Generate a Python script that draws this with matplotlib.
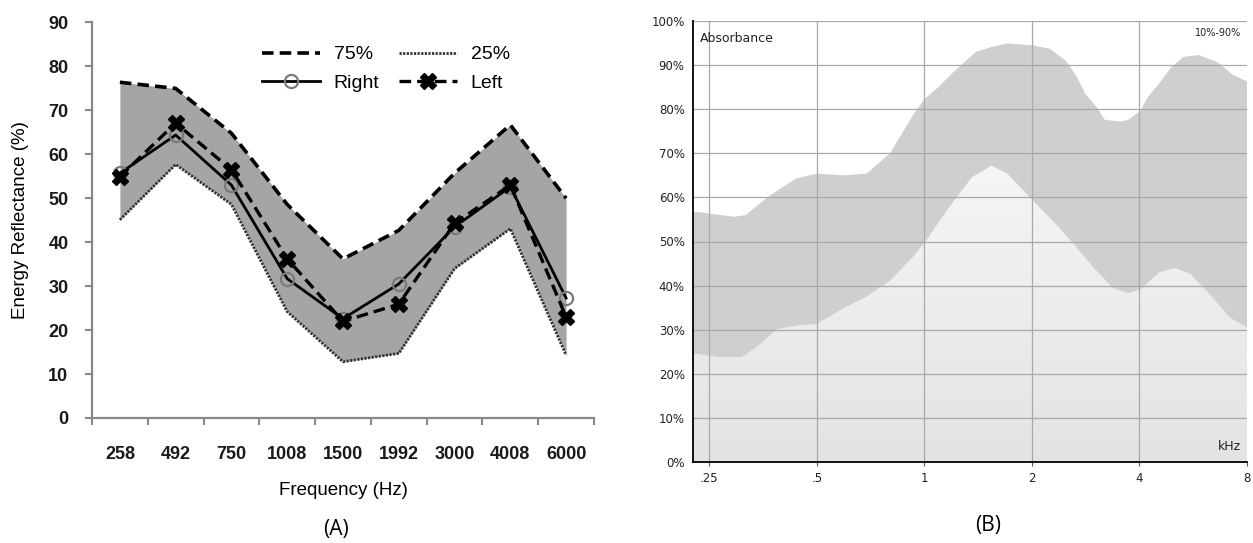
import matplotlib
matplotlib.use("Agg")
import matplotlib.pyplot as plt
import numpy as np
from matplotlib.colors import LinearSegmentedColormap

# ---------------- Panel A data ----------------
freq_labels = ["258", "492", "750", "1008", "1500", "1992", "3000", "4008", "6000"]
p75 = [76.4, 75.0, 64.8, 48.6, 36.2, 42.7, 55.7, 66.7, 50.0]
p25 = [45.1, 57.7, 48.6, 24.2, 12.8, 14.7, 34.0, 43.1, 14.3]
right_ear = [55.7, 64.4, 53.0, 31.7, 22.6, 30.5, 43.5, 52.6, 27.3]
left_ear = [54.9, 67.1, 56.5, 36.2, 22.0, 25.9, 44.3, 53.0, 23.0]
yticks_a = [0, 10, 20, 30, 40, 50, 60, 70, 80, 90]

# ---------------- Panel B data ----------------
upper_f = [0.225, 0.293, 0.316, 0.367, 0.438, 0.500, 0.592, 0.689, 0.801, 0.932,
           1.0, 1.084, 1.198, 1.394, 1.541, 1.705, 2.0, 2.248, 2.486, 2.67, 2.819,
           3.04, 3.197, 3.536, 3.72, 4.02, 4.22, 4.547, 4.9, 5.29, 5.85, 6.63, 7.3, 8.0]
upper_v = [56.8, 55.6, 56.0, 60.3, 64.3, 65.4, 65.0, 65.4, 70.0, 78.8,
           82.3, 84.7, 88.2, 93.0, 94.1, 94.9, 94.5, 93.7, 91.0, 87.4, 83.5,
           80.4, 77.6, 77.2, 77.6, 79.6, 82.7, 85.9, 89.4, 91.8, 92.3, 90.6, 87.8, 86.3]
lower_f = [0.225, 0.265, 0.308, 0.341, 0.386, 0.438, 0.500, 0.592, 0.689, 0.801,
           0.932, 1.0, 1.169, 1.359, 1.541, 1.705, 2.0, 2.305, 2.549, 2.965,
           3.363, 3.719, 4.02, 4.547, 5.03, 5.56, 6.31, 7.15, 8.0]
lower_v = [24.6, 23.8, 23.8, 26.2, 30.1, 30.9, 31.3, 34.8, 37.5, 41.1,
           46.6, 49.7, 57.6, 64.6, 67.2, 65.4, 59.5, 54.4, 50.5, 44.2,
           39.5, 38.3, 39.1, 43.0, 44.0, 42.6, 37.9, 32.8, 30.5]
xticks_b = [0.25, 0.5, 1, 2, 4, 8]
xticklabels_b = [".25", ".5", "1", "2", "4", "8"]
yticks_b = list(range(0, 101, 10))

W, H = 1253, 543
fig = plt.figure(figsize=(W / 100, H / 100), dpi=100)
fig.patch.set_facecolor("white")

# ================= Panel A =================
axA = fig.add_axes([92 / W, 1 - 418 / H, 502 / W, (418 - 22.5) / H])
x = np.arange(len(freq_labels))
axA.fill_between(x, p25, p75, color="#a5a5a5", lw=0, zorder=1)
l75, = axA.plot(x, p75, color="black", lw=2.6, linestyle=(0, (3.2, 1.7)), zorder=3)
l25, = axA.plot(x, p25, color="#333333", lw=2.0, linestyle=(0, (0.8, 0.5)), zorder=3)
lR, = axA.plot(x, right_ear, color="black", lw=2.0, marker="o", markersize=9.5,
               markerfacecolor="none", markeredgecolor="#7a7a7a", markeredgewidth=1.6, zorder=4)
lL, = axA.plot(x, left_ear, color="black", lw=2.4, linestyle=(0, (3.5, 1.8)), marker="X",
               markersize=12, markerfacecolor="black", markeredgecolor="black", zorder=5)

axA.set_xlim(-0.5, len(freq_labels) - 0.5)
axA.set_ylim(0, 90)
axA.set_yticks(yticks_a)
axA.set_yticklabels([str(v) for v in yticks_a], fontsize=13, fontweight="bold",
                    family="Liberation Sans", color="#1a1a1a")
axA.set_xticks(x)
axA.set_xticklabels(freq_labels, fontsize=13, fontweight="bold",
                    family="Liberation Sans", color="#1a1a1a")
axA.set_xticks(np.arange(-0.5, len(freq_labels) + 0.5, 1), minor=True)
axA.tick_params(axis="x", which="major", length=0, pad=20)
axA.tick_params(axis="x", which="minor", length=5, width=1.5, color="#888888", direction="out")
axA.tick_params(axis="y", length=5, width=1.5, color="#888888", pad=12)
for s in ["top", "right"]:
    axA.spines[s].set_visible(False)
for s in ["left", "bottom"]:
    axA.spines[s].set_color("#888888")
    axA.spines[s].set_linewidth(1.6)
axA.set_ylabel("Energy Reflectance (%)", fontsize=13.5, family="Liberation Sans", labelpad=14)
axA.set_xlabel("Frequency (Hz)", fontsize=13.5, family="Liberation Sans", labelpad=14)

leg = fig.legend([l75, lR, l25, lL], ["75%", "Right", "25%", "Left"], ncol=2,
                 loc="upper left", bbox_to_anchor=(252 / W, 1 - 36 / H),
                 frameon=False, borderpad=0, handlelength=3.0, handletextpad=0.7,
                 columnspacing=1.0, labelspacing=0.55,
                 prop={"family": "Liberation Sans", "size": 14})

fig.text(336 / W, 1 - 530 / H, "(A)", ha="center", va="center", fontsize=15, family="Open Sans")

# ================= Panel B =================
axB = fig.add_axes([693 / W, 1 - 462 / H, 554 / W, (462 - 21) / H])
axB.set_xscale("log")
axB.set_xlim(0.225, 8.0)
axB.set_ylim(0, 100)

uf = np.array(upper_f); uv = np.array(upper_v)
lf = np.array(lower_f); lv = np.array(lower_v)
poly_x = np.concatenate([uf, lf[::-1]])
poly_y = np.concatenate([uv, lv[::-1]])
axB.fill(poly_x, poly_y, color="#cfcfcf", lw=0, zorder=1)

below = axB.fill(np.concatenate([lf, [lf[-1], lf[0]]]),
                 np.concatenate([lv, [0, 0]]), color="none", lw=0, zorder=1)[0]
grad = np.linspace(0, 1, 256).reshape(-1, 1)
cmap = LinearSegmentedColormap.from_list("g", ["#e3e3e3", "#f6f6f6"])
im = axB.imshow(grad, aspect="auto", cmap=cmap, origin="lower",
                extent=[0, 1, 0, 0.7], transform=axB.transAxes, zorder=0.5)
im.set_clip_path(below)

for xv in xticks_b[:-1]:
    axB.axvline(xv, color="#a9a9a9", lw=0.9, zorder=2)
for yv in yticks_b[1:]:
    axB.axhline(yv, color="#a9a9a9", lw=0.9, zorder=2)

axB.set_xticks(xticks_b)
axB.set_xticklabels(xticklabels_b, fontsize=8.5, family="DejaVu Sans", color="#222222")
axB.xaxis.set_minor_locator(matplotlib.ticker.NullLocator())
axB.set_yticks(yticks_b)
axB.set_yticklabels([f"{v}%" for v in yticks_b], fontsize=8.5, family="DejaVu Sans", color="#222222")
axB.tick_params(axis="x", length=3, width=0.8, color="#555555", pad=4)
axB.tick_params(axis="y", length=0, pad=6)
for s in ["top", "right"]:
    axB.spines[s].set_visible(False)
for s in ["left", "bottom"]:
    axB.spines[s].set_color("black")
    axB.spines[s].set_linewidth(1.3)
    axB.spines[s].set_zorder(5)

axB.text(0.012, 0.975, "Absorbance", transform=axB.transAxes, ha="left", va="top",
         fontsize=9, family="DejaVu Sans", color="#222222", zorder=6)
axB.text(0.99, 0.985, "10%-90%", transform=axB.transAxes, ha="right", va="top",
         fontsize=7, family="DejaVu Sans", color="#222222", zorder=6)
axB.text(0.99, 0.02, "kHz", transform=axB.transAxes, ha="right", va="bottom",
         fontsize=9, family="DejaVu Sans", color="#222222", zorder=6)

fig.text(988 / W, 1 - 525 / H, "(B)", ha="center", va="center", fontsize=15, family="Open Sans")

fig.savefig("out.png", dpi=100, facecolor="white")
